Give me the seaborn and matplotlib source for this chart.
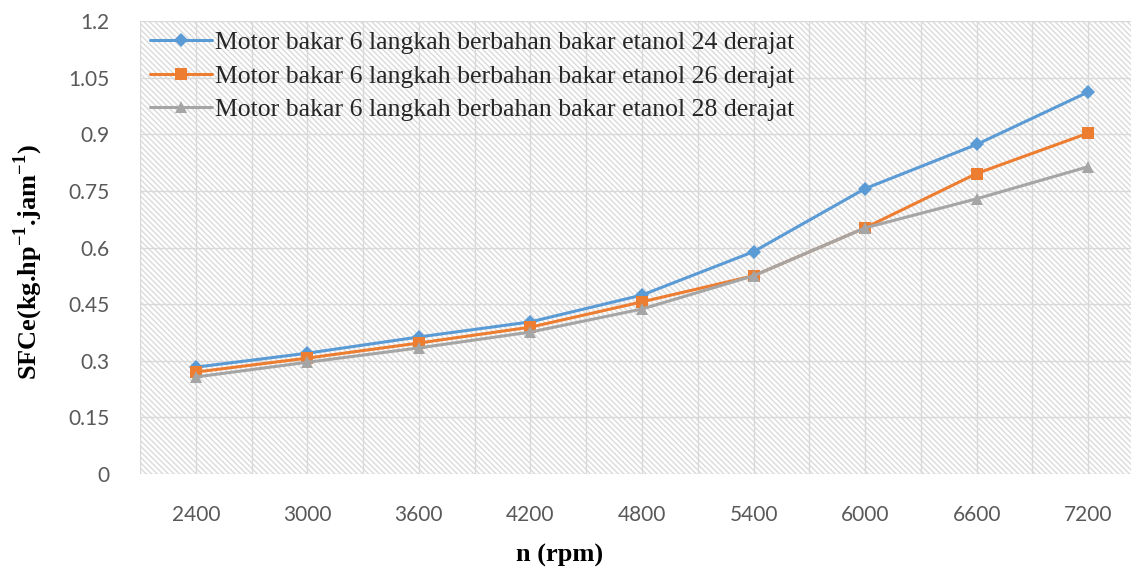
import numpy as np
import pandas as pd
import matplotlib
matplotlib.use("Agg")
import matplotlib.pyplot as plt
from matplotlib.patches import Rectangle
from matplotlib.ticker import FixedLocator, MultipleLocator
import seaborn as sns

# Engine speed (rpm) and specific fuel consumption for three ignition timings
rpm = [2400, 3000, 3600, 4200, 4800, 5400, 6000, 6600, 7200]
sfc_24 = [0.283, 0.320, 0.363, 0.403, 0.474, 0.589, 0.756, 0.873, 1.012]
sfc_26 = [0.270, 0.307, 0.347, 0.389, 0.456, 0.525, 0.652, 0.796, 0.903]
sfc_28 = [0.257, 0.296, 0.334, 0.376, 0.437, 0.525, 0.652, 0.729, 0.814]
labels = [
    "Motor bakar 6 langkah berbahan bakar etanol 24 derajat",
    "Motor bakar 6 langkah berbahan bakar etanol 26 derajat",
    "Motor bakar 6 langkah berbahan bakar etanol 28 derajat",
]
y_ticks = [0, 0.15, 0.3, 0.45, 0.6, 0.75, 0.9, 1.05, 1.2]
y_tick_labels = ["0", "0.15", "0.3", "0.45", "0.6", "0.75", "0.9", "1.05", "1.2"]

sns.set_theme(style="white")
plt.rcParams["font.family"] = ["Liberation Serif", "DejaVu Serif"]
plt.rcParams["mathtext.fontset"] = "custom"
plt.rcParams["mathtext.rm"] = "Liberation Serif:bold"
plt.rcParams["mathtext.bf"] = "Liberation Serif:bold"
plt.rcParams["hatch.linewidth"] = 1.0
plt.rcParams["hatch.color"] = "#dadada"

fig = plt.figure(figsize=(11.31, 5.73), dpi=100)
ax = fig.add_axes([140 / 1131, 99 / 573, 1004 / 1131, 453 / 573])

# hatched plot-area background
ax.add_patch(Rectangle((0, 0), 1, 1, transform=ax.transAxes, facecolor="white",
                       edgecolor="#dadada", hatch="\\" * 6, linewidth=0, zorder=0))

pos = np.arange(len(rpm))
series = [
    (sfc_24, "#5b9bd5", "D", 7.5),
    (sfc_26, "#ed7d31", "s", 8.5),
    (sfc_28, "#a5a5a5", "^", 8.5),
]
for (vals, color, marker, ms), lab in zip(series, labels):
    df = pd.DataFrame({"pos": pos, "sfc": vals})
    sns.lineplot(data=df, x="pos", y="sfc", ax=ax, color=color, linewidth=2.2,
                 marker=marker, markersize=ms, markeredgewidth=0,
                 label=lab, zorder=3)

ax.set_xlim(-0.5, 8.5)
ax.set_ylim(0, 1.2)
ax.xaxis.set_major_locator(FixedLocator(pos))
ax.xaxis.set_minor_locator(MultipleLocator(0.5))
ax.set_xticks(pos)
ax.set_xticklabels([str(r) for r in rpm])
ax.set_yticks(y_ticks)
ax.set_yticklabels(y_tick_labels)
ax.grid(True, which="both", axis="x", color="#d9d9d9", linewidth=1.0, zorder=1)
ax.grid(True, which="major", axis="y", color="#d9d9d9", linewidth=1.0, zorder=1)
ax.set_axisbelow(True)
for s in ax.spines.values():
    s.set_visible(False)

ax.tick_params(axis="both", which="both", length=0)
ax.tick_params(axis="x", pad=22)
ax.tick_params(axis="y", pad=22)
for t in ax.get_xticklabels() + ax.get_yticklabels():
    t.set_fontfamily(["Lato", "DejaVu Sans"])
    t.set_fontsize(15)
    t.set_color("#595959")

ax.set_xlabel("n (rpm)", fontsize=19, fontweight="bold", color="black")
ax.set_ylabel(r"SFCe(kg.hp$^{-1}$.jam$^{-1}$)", fontsize=19, fontweight="bold",
              color="black")
ax.xaxis.set_label_coords(0.418, -0.155)
ax.yaxis.set_label_coords(-0.095, 0.468)

leg = ax.legend(loc="upper left", bbox_to_anchor=(0.0, 1.0), frameon=False,
                fontsize=18.5, handlelength=2.4, handletextpad=0.1,
                labelspacing=0.4, borderaxespad=0.2, borderpad=0.2)
for h in leg.legend_handles:
    h.set_linewidth(2.2)

fig.savefig("out.png", dpi=100)
